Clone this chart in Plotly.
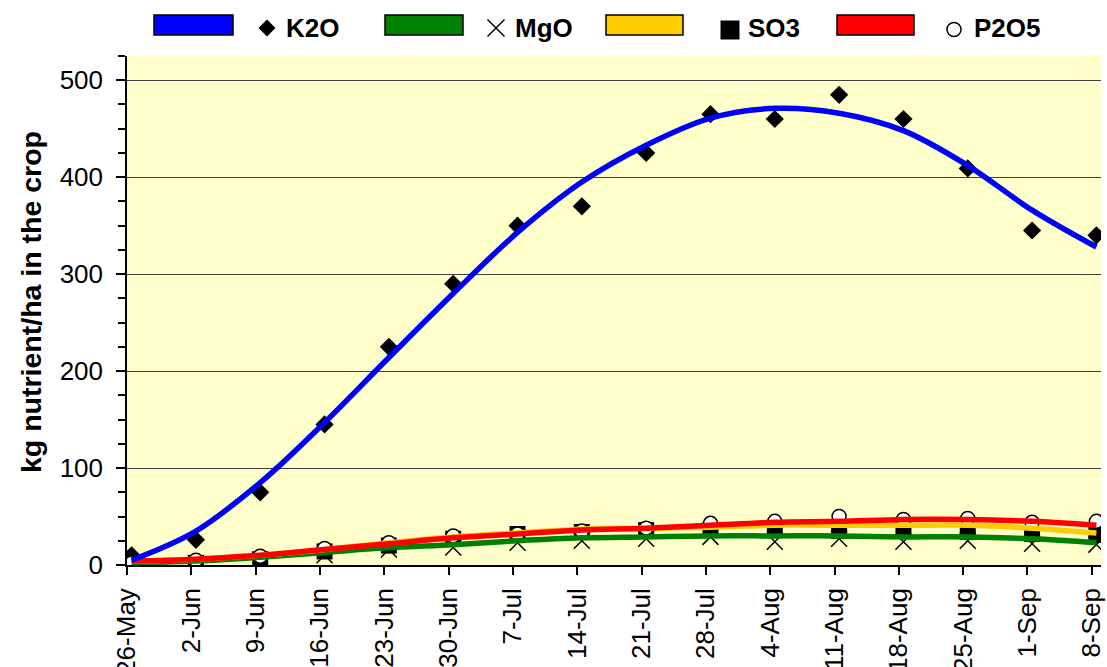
import pandas as pd
import plotly.graph_objects as go

# Weekly sampling dates and axis labels
week_dates = ["2003-05-26", "2003-06-02", "2003-06-09", "2003-06-16", "2003-06-23",
              "2003-06-30", "2003-07-07", "2003-07-14", "2003-07-21", "2003-07-28",
              "2003-08-04", "2003-08-11", "2003-08-18", "2003-08-25", "2003-09-01",
              "2003-09-08"]
tick_labels = ["26-May", "2-Jun", "9-Jun", "16-Jun", "23-Jun", "30-Jun", "7-Jul",
               "14-Jul", "21-Jul", "28-Jul", "4-Aug", "11-Aug", "18-Aug", "25-Aug",
               "1-Sep", "8-Sep"]

# Measured nutrient uptake (kg/ha)
k2o_measured = [10, 26, 75, 145, 225, 290, 350, 370, 425, 465, 460, 485, 460, 409, 345, 340]
mgo_measured = [1, 2, 5, 10, 16, 18, 23, 25, 27, 29, 24, 27, 24, 25, 22, 21]
so3_measured = [1, 2, 6, 14, 20, 27, 32, 34, 36, 36, 36, 35, 36, 34, 32, 31]
p2o5_measured = [2, 5, 9, 17, 23, 30, 32, 35, 38, 43, 45, 50, 47, 48, 44, 45]

# Fitted uptake curves (kg/ha)
k2o_fit = [5, 35, 85, 147, 214, 280, 343, 395, 433, 461, 471, 466, 448, 412, 366, 328]
mgo_fit = [2, 4, 8, 13, 18, 21, 25, 28, 29, 30, 30, 30, 29, 29, 27, 23]
so3_fit = [4, 6, 10, 16, 23, 29, 33, 37, 38, 39, 41, 41, 41, 41, 38, 33]
p2o5_fit = [4, 6, 10, 16, 22, 28, 32, 36, 38, 41, 44, 45, 47, 47, 45, 41]

y_ticks = [0, 100, 200, 300, 400, 500]

# Points sit in the middle of each day on the date axis
x_mid = pd.to_datetime(week_dates) + pd.Timedelta(hours=12)

FONT = "Liberation Sans, Arial, sans-serif"
W, H = 1107, 667
ML, MR, MT, MB = 127, 6, 56, 102
PW, PH = W - ML - MR, H - MT - MB


def px(x):
    return (x - ML) / PW


def py(y):
    return (H - MB - y) / PH


fig = go.Figure()

# Measured values as markers
fig.add_trace(go.Scatter(x=x_mid, y=k2o_measured, mode="markers", name="K2O",
                         marker=dict(symbol="diamond", size=14, color="black")))
fig.add_trace(go.Scatter(x=x_mid, y=mgo_measured, mode="markers", name="MgO",
                         marker=dict(symbol="x-thin", size=16, color="black",
                                     line=dict(color="black", width=1.5))))
fig.add_trace(go.Scatter(x=x_mid, y=so3_measured, mode="markers", name="SO3",
                         marker=dict(symbol="square", size=16, color="black")))
fig.add_trace(go.Scatter(x=x_mid, y=p2o5_measured, mode="markers", name="P2O5",
                         marker=dict(symbol="circle", size=14, color="white",
                                     line=dict(color="black", width=1.5))))

# Fitted curves on top
for vals, col in [(mgo_fit, "#008000"), (so3_fit, "#FFCC00"),
                  (p2o5_fit, "#FF0000"), (k2o_fit, "#0000FF")]:
    fig.add_trace(go.Scatter(x=x_mid, y=vals, mode="lines",
                             line=dict(color=col, width=5.5, shape="spline",
                                       smoothing=1.0),
                             hoverinfo="skip"))

# Legend drawn in the top margin
shapes = []
annotations = []
legend_items = [
    ("#0000FF", 154, 233, "diamond", 267, 284, "K2O"),
    ("#008000", 385, 463, "x", 496, 513, "MgO"),
    ("#FFCC00", 606, 683, "square", 730, 746, "SO3"),
    ("#FF0000", 837, 914, "circle", 954, 972, "P2O5"),
]
ry0, ry1 = 15, 35
cy = 28
for col, x0, x1, sym, sx, tx, label in legend_items:
    shapes.append(dict(type="rect", xref="paper", yref="paper",
                       x0=px(x0), x1=px(x1), y0=py(ry1), y1=py(ry0),
                       fillcolor=col, line=dict(color="black", width=1.5)))
    if sym == "diamond":
        r = 8.5
        pts = [(sx - r, cy), (sx, cy - r), (sx + r, cy), (sx, cy + r)]
        path = "M " + " L ".join(f"{px(a)},{py(b)}" for a, b in pts) + " Z"
        shapes.append(dict(type="path", xref="paper", yref="paper", path=path,
                           fillcolor="black", line=dict(color="black", width=0)))
    elif sym == "x":
        r = 8.5
        for (a0, b0, a1, b1) in [(sx - r, cy - r, sx + r, cy + r),
                                 (sx - r, cy + r, sx + r, cy - r)]:
            shapes.append(dict(type="line", xref="paper", yref="paper",
                               x0=px(a0), y0=py(b0), x1=px(a1), y1=py(b1),
                               line=dict(color="black", width=1.5)))
    elif sym == "square":
        r = 9.5
        shapes.append(dict(type="rect", xref="paper", yref="paper",
                           x0=px(sx - r), x1=px(sx + r), y0=py(cy + 2 + r), y1=py(cy + 2 - r),
                           fillcolor="black", line=dict(color="black", width=0)))
    else:
        r = 7
        shapes.append(dict(type="circle", xref="paper", yref="paper",
                           x0=px(sx - r), x1=px(sx + r), y0=py(cy + 1.5 + r), y1=py(cy + 1.5 - r),
                           fillcolor="white", line=dict(color="black", width=1.5)))
    annotations.append(dict(xref="paper", yref="paper", x=px(tx), y=py(cy),
                            xanchor="left", yanchor="middle", showarrow=False,
                            text=f"<b>{label}</b>",
                            font=dict(family=FONT, size=26, color="black")))

# Y-axis title
annotations.append(dict(xref="paper", yref="paper", x=px(31), y=py(302),
                        xanchor="center", yanchor="middle", showarrow=False,
                        textangle=-90, text="<b>kg nutrient/ha in the crop</b>",
                        font=dict(family=FONT, size=28.5, color="black")))

fig.update_layout(
    width=W, height=H,
    margin=dict(l=ML, r=MR, t=MT, b=MB, autoexpand=False),
    paper_bgcolor="white", plot_bgcolor="#FFFFCC",
    showlegend=False,
    font=dict(family=FONT, color="black"),
    shapes=shapes, annotations=annotations,
)

fig.update_xaxes(
    type="date", range=["2003-05-26", "2003-09-09"],
    tickvals=week_dates, ticktext=tick_labels, tickangle=-90,
    ticks="outside", ticklen=8, tickwidth=1.5, tickcolor="black",
    ticklabelstandoff=3,
    showline=True, linecolor="black", linewidth=1.5,
    showgrid=False, zeroline=False,
    tickfont=dict(family=FONT, size=26, color="black"),
)

fig.update_yaxes(
    range=[0, 525], tickvals=y_ticks,
    ticks="outside", ticklen=9, tickwidth=1.5, tickcolor="black",
    ticklabelstandoff=8,
    minor=dict(dtick=25, tick0=0, ticks="outside", ticklen=7, tickwidth=1.5,
               tickcolor="black", showgrid=False),
    showline=True, linecolor="black", linewidth=1.5,
    showgrid=True, gridcolor="#404040", gridwidth=1.3, zeroline=False,
    tickfont=dict(family=FONT, size=26, color="black"),
)

fig.write_html("out.html")
